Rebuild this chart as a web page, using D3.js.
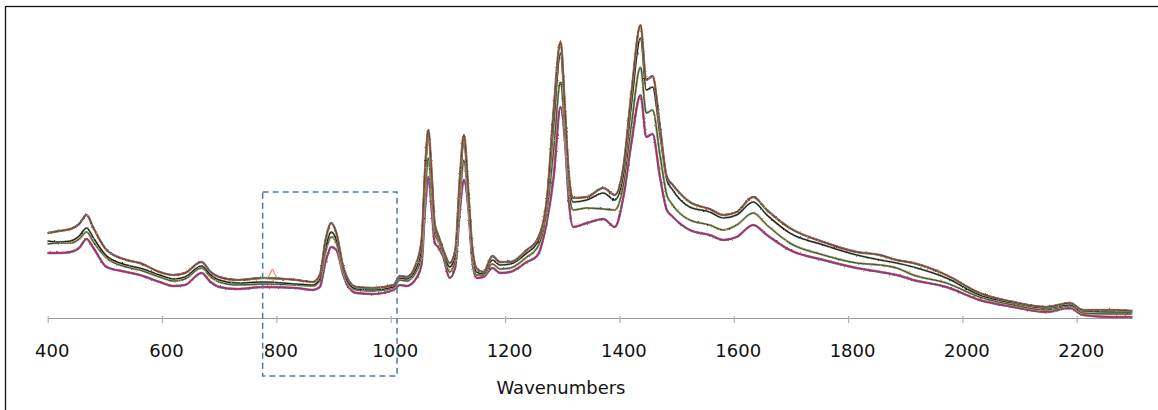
<!DOCTYPE html>
<html>
<head>
<meta charset="utf-8">
<script src="https://cdn.jsdelivr.net/npm/d3@7"></script>
<style>
    body { margin: 0; background: #fff; }
    svg { display: block; font-family: Verdana, "DejaVu Sans", sans-serif; }
</style>
</head>
<body>
<div id="chart"></div>
<script>
const wavenumbers = [400, 420, 440, 455, 468, 480, 503, 538, 561, 596, 620, 640, 669, 685, 700, 731, 777, 835, 864, 876,
    886, 896, 905, 917, 926, 940, 969, 1005, 1016, 1028, 1045, 1054, 1060, 1066, 1072, 1077, 1083, 1092, 1103, 1113,
    1121, 1128, 1136, 1142, 1150, 1162, 1178, 1191, 1209, 1238, 1256, 1273, 1285, 1297, 1305, 1311, 1319, 1343, 1372, 1392,
    1407, 1421, 1437, 1447, 1458, 1471, 1483, 1492, 1523, 1558, 1582, 1605, 1634, 1658, 1698, 1757, 1815, 1856, 1885, 1914,
    1972, 2030, 2089, 2147, 2188, 2211, 2263, 2297];

// intensity, arbitrary units (top group of spectra)
const spectraTop = [85, 87, 89, 94, 103, 90, 68, 58, 55, 46, 43, 45, 56, 46, 41, 38, 40, 38, 36, 43,
    78, 95, 85, 51, 38, 31, 30, 33, 42, 41, 55, 78, 148, 188, 141, 94, 83, 68, 55, 68,
    141, 183, 125, 75, 50, 46, 62, 56, 56, 68, 78, 118, 208, 276, 208, 148, 120, 121, 130, 123,
    151, 225, 293, 238, 242, 191, 141, 134, 116, 109, 103, 106, 121, 108, 90, 76, 66, 63, 58, 55,
    43, 25, 16, 11, 15, 8, 8, 7];

const spectraSecond = [77, 76, 77, 82, 90, 80, 62, 53, 50, 43, 39, 41, 52, 43, 38, 35, 36, 34, 33, 39,
    70, 86, 78, 48, 35, 29, 28, 31, 40, 39, 50, 70, 138, 180, 133, 90, 80, 66, 51, 63,
    133, 175, 118, 71, 46, 44, 58, 53, 54, 65, 75, 113, 193, 265, 198, 143, 116, 118, 125, 118,
    143, 213, 280, 228, 231, 183, 138, 129, 111, 106, 100, 103, 116, 103, 85, 73, 63, 58, 55, 51,
    40, 23, 15, 10, 13, 7, 6, 6];

const spectraThird = [74, 75, 75, 79, 86, 76, 60, 51, 48, 41, 37, 39, 50, 41, 36, 33, 34, 33, 32, 37,
    66, 81, 75, 46, 34, 28, 27, 30, 38, 37, 47, 63, 123, 160, 118, 84, 77, 64, 46, 58,
    120, 158, 113, 67, 43, 43, 54, 49, 50, 61, 70, 106, 168, 236, 183, 133, 108, 110, 109, 108,
    133, 193, 251, 205, 208, 163, 123, 114, 98, 93, 88, 93, 105, 93, 75, 63, 55, 53, 50, 43,
    35, 21, 13, 8, 12, 5, 4, 4];

const spectraBottom = [65, 65, 66, 70, 79, 70, 51, 46, 43, 36, 32, 33, 45, 36, 31, 29, 31, 30, 28, 31,
    56, 71, 68, 43, 31, 25, 24, 28, 33, 32, 40, 54, 108, 141, 106, 75, 71, 61, 40, 51,
    108, 138, 108, 61, 40, 41, 50, 45, 46, 56, 62, 96, 141, 211, 175, 121, 91, 95, 99, 91,
    121, 175, 223, 181, 184, 141, 108, 102, 88, 83, 78, 81, 93, 83, 68, 58, 50, 46, 43, 38,
    31, 18, 11, 6, 10, 3, 1, 1];

// small glitch in one spectrum near 790 cm-1
const spikeWavenumbers = [784, 790, 793, 797, 802];
const spikeValues = [40, 45, 49, 44, 40];

const tickValues = [400, 600, 800, 1000, 1200, 1400, 1600, 1800, 2000, 2200];

// highlighted region (wavenumbers) and its vertical extent (intensity units)
const boxRange = [776, 1011];
const boxLevels = [126, -58];

const width = 1158;
const height = 410;

const svg = d3.select("#chart")
    .append("svg")
    .attr("width", width)
    .attr("height", height);

// outer frame (right and bottom edges fall outside the picture)
svg.append("rect")
    .attr("x", 5.5)
    .attr("y", 6.5)
    .attr("width", 1200)
    .attr("height", 450)
    .attr("fill", "none")
    .attr("stroke", "#111")
    .attr("stroke-width", 1.3);

const x = d3.scaleLinear()
    .domain([400, 2297])
    .range([47.7, 1132.2]);

const y = d3.scaleLinear()
    .domain([0, 300])
    .range([318, 18]);

// jitter filters so the lines look like noisy measured spectra
const defs = svg.append("defs");
[1, 2, 3, 4, 5, 6].forEach(seed => {
    const f = defs.append("filter")
        .attr("id", "noise" + seed)
        .attr("filterUnits", "userSpaceOnUse")
        .attr("x", 0).attr("y", 0)
        .attr("width", width).attr("height", height);
    f.append("feTurbulence")
        .attr("type", "fractalNoise")
        .attr("baseFrequency", 0.55)
        .attr("numOctaves", 1)
        .attr("seed", seed)
        .attr("result", "n");
    f.append("feDisplacementMap")
        .attr("in", "SourceGraphic")
        .attr("in2", "n")
        .attr("scale", 2.2)
        .attr("xChannelSelector", "R")
        .attr("yChannelSelector", "G");
});

// x axis
const xAxis = d3.axisBottom(x)
    .tickValues(tickValues)
    .tickFormat(d3.format("d"))
    .tickSizeInner(5)
    .tickSizeOuter(0);

const axisG = svg.append("g")
    .attr("transform", `translate(0, ${y(0)})`)
    .call(xAxis);

axisG.select(".domain").attr("stroke", "#9a9a9a").attr("stroke-width", 1.2);
axisG.selectAll(".tick line")
    .attr("y1", -2)
    .attr("stroke", "#b0b0b0")
    .attr("stroke-width", 1.2);
axisG.selectAll(".tick text")
    .attr("y", 38.7)
    .attr("dy", 0)
    .attr("dx", 4)
    .attr("fill", "#111")
    .style("font-size", "18px")
    .style("font-family", 'Verdana, "DejaVu Sans", sans-serif');

// spectra, each group drawn as a few overlapping coloured strokes
const line = d3.line()
    .x(d => x(d[0]))
    .y(d => y(d[1]))
    .curve(d3.curveMonotoneX);

const groups = [
    { values: spectraBottom, strokes: [["#8064a2", 2.4, 1], ["#9bbb59", 1.6, 3], ["#a8326e", 1.6, 2], ["#a0306a", 1.0, 4]] },
    { values: spectraThird, strokes: [["#4bacc6", 2.2, 2], ["#9bbb59", 1.6, 5], ["#f79646", 1.2, 3], ["#2a3a2a", 0.9, 6]] },
    { values: spectraSecond, strokes: [["#f79646", 2.0, 4], ["#4bacc6", 1.5, 1], ["#1a1a1a", 1.1, 2]] },
    { values: spectraTop, strokes: [["#9bbb59", 2.4, 3], ["#b0305e", 1.9, 6], ["#4f81bd", 1.3, 5], ["#f79646", 1.0, 1], ["#3a2a2a", 0.8, 4]] }
];

groups.forEach(g => {
    const pts = wavenumbers.map((w, i) => [w, g.values[i]]);
    g.strokes.forEach(s => {
        svg.append("path")
            .datum(pts)
            .attr("d", line)
            .attr("fill", "none")
            .attr("stroke", s[0])
            .attr("stroke-width", s[1])
            .attr("stroke-linejoin", "round")
            .attr("filter", `url(#noise${s[2]})`);
    });
});

svg.append("path")
    .datum(spikeWavenumbers.map((w, i) => [w, spikeValues[i]]))
    .attr("d", line)
    .attr("fill", "none")
    .attr("stroke", "#f7805a")
    .attr("stroke-width", 1.1);

// dashed highlight box
svg.append("rect")
    .attr("x", x(boxRange[0]))
    .attr("y", y(boxLevels[0]))
    .attr("width", x(boxRange[1]) - x(boxRange[0]))
    .attr("height", y(boxLevels[1]) - y(boxLevels[0]))
    .attr("fill", "none")
    .attr("stroke", "#4d7ba6")
    .attr("stroke-width", 1.5)
    .attr("stroke-dasharray", "6,4");

// axis title
svg.append("text")
    .attr("x", 561)
    .attr("y", 393.5)
    .attr("text-anchor", "middle")
    .attr("fill", "#111")
    .style("font-size", "18px")
    .text("Wavenumbers");
</script>
</body>
</html>
